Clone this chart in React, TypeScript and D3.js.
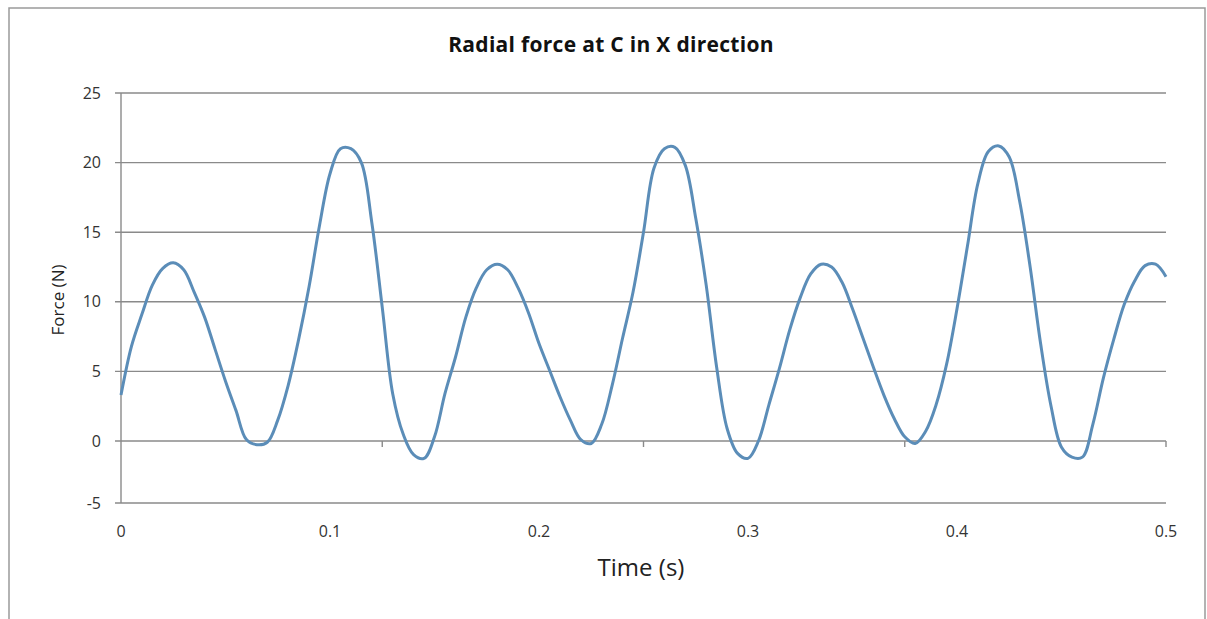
import React from "react";
import * as d3 from "d3";

const times: number[] = d3.range(0, 101).map((i) => +(i * 0.005).toFixed(3));
const force: number[] = [
  3.3, 6.8, 9.1, 11.2, 12.4, 12.8, 12.3, 10.7, 8.9, 6.6,
  4.3, 2.2, 0.1, -0.3, -0.1, 1.5, 4.0, 7.3, 11.1, 15.5,
  19.2, 21.0, 21.0, 20.0, 15.7, 9.6, 3.4, 0.5, -1.1, -1.4,
  0.3, 3.4, 6.0, 8.9, 11.0, 12.3, 12.7, 12.3, 11.0, 9.2,
  7.0, 5.1, 3.2, 1.5, 0.1, -0.2, 1.2, 4.0, 7.4, 10.7,
  15.0, 19.6, 21.0, 21.1, 19.8, 16.0, 11.2, 5.3, 0.9, -1.0,
  -1.4, 0.0, 2.6, 5.2, 8.0, 10.3, 12.0, 12.7, 12.5, 11.4,
  9.5, 7.4, 5.3, 3.3, 1.6, 0.3, -0.2, 0.7, 2.6, 5.5,
  9.5, 14.0, 18.5, 20.8, 21.2, 20.4, 17.2, 12.5, 7.0, 2.5,
  -0.5, -1.3, -1.3, 1.2, 4.5, 7.3, 9.8, 11.5, 12.6, 12.7,
  11.8,
];
const yTicks: number[] = [-5, 0, 5, 10, 15, 20, 25];
const xTickLabels: number[] = [0, 0.1, 0.2, 0.3, 0.4, 0.5];
const xTickMarks: number[] = [0.125, 0.25, 0.375, 0.5];
const title = "Radial  force at C in X direction";
const xTitle = "Time (s)";
const yTitle = "Force (N)";

export default function App() {
  const W = 1207, H = 619;
  const x = d3.scaleLinear().domain([0, 0.5]).range([121, 1166]);
  const y = d3.scaleLinear().domain([-5, 0, 25]).range([503, 441, 93]);
  const line = d3
    .line<number>()
    .x((_, i) => x(times[i]))
    .y((d) => y(d))
    .curve(d3.curveCatmullRom.alpha(0.5));
  const grid = "#8a8a8a";
  const font = "'Open Sans', Lato, sans-serif";
  return (
    <svg
      width={W}
      height={H}
      style={{ position: "absolute", left: 0, top: 0, background: "#fff" }}
    >
      <rect x={0} y={0} width={W} height={H} fill="#fff" />
      <rect x={9} y={8} width={1196} height={640} fill="none" stroke="#9a9a9a" strokeWidth={1.5} />
      <text x={611} y={52} textAnchor="middle" fontFamily={font} fontWeight="bold" fontSize={21} letterSpacing={0.3} fill="#111">
        {title}
      </text>
      {yTicks.map((t) => (
        <g key={t}>
          <line x1={115} x2={1166} y1={y(t)} y2={y(t)} stroke={grid} strokeWidth={1.4} />
          <text x={101} y={y(t)} dy="0.35em" textAnchor="end" fontFamily={font} fontSize={16} fill="#333">
            {t}
          </text>
        </g>
      ))}
      <line x1={x(0)} x2={x(0)} y1={y(25)} y2={y(-5)} stroke={grid} strokeWidth={1.4} />
      {xTickMarks.map((t) => (
        <line key={t} x1={x(t)} x2={x(t)} y1={y(0)} y2={y(0) + 6} stroke={grid} strokeWidth={1.4} />
      ))}
      {xTickLabels.map((t) => (
        <text key={t} x={x(t)} y={531} dy="0.35em" textAnchor="middle" fontFamily={font} fontSize={16} fill="#333">
          {t}
        </text>
      ))}
      <text x={641} y={568} dy="0.35em" textAnchor="middle" fontFamily={font} fontSize={24} fill="#222">
        {xTitle}
      </text>
      <text
        transform={`translate(58,300) rotate(-90)`}
        dy="0.35em"
        textAnchor="middle"
        fontFamily={font}
        fontSize={17}
        fill="#222"
      >
        {yTitle}
      </text>
      <path d={line(force) || ""} fill="none" stroke="#5b8db8" strokeWidth={3} strokeLinejoin="round" />
    </svg>
  );
}
